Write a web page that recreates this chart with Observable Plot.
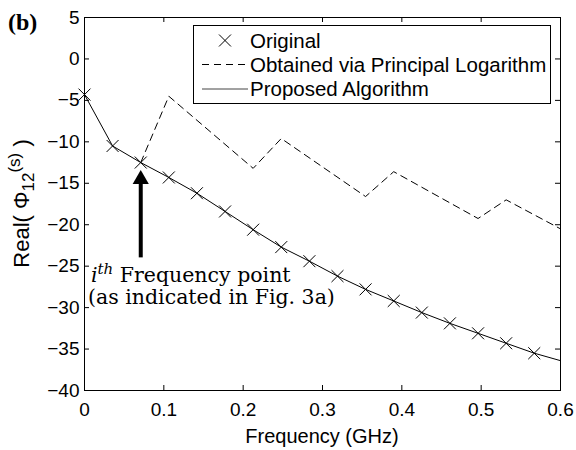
<!DOCTYPE html>
<html><head><meta charset="utf-8">
<script src="https://cdn.jsdelivr.net/npm/d3@7"></script>
<script src="https://cdn.jsdelivr.net/npm/@observablehq/plot@0.6"></script>
<style>body{margin:0;background:#fff}#chart{width:576px;height:450px}</style>
</head><body><div id="chart"></div>
<script>
// ---- data ----
const freqs = [0, 0.0354, 0.0709, 0.1063, 0.1417, 0.1772, 0.2126, 0.2480, 0.2835, 0.3189, 0.3543, 0.3898, 0.4252, 0.4606, 0.4961, 0.5315, 0.5669];
const original = [-4.3, -10.5, -12.5, -14.3, -16.2, -18.4, -20.6, -22.7, -24.4, -26.2, -27.8, -29.2, -30.6, -31.9, -33.1, -34.3, -35.5];
const proposedFreqs = [0, 0.0354, 0.0709, 0.1063, 0.1417, 0.1772, 0.2126, 0.2480, 0.2835, 0.3189, 0.3543, 0.3898, 0.4252, 0.4606, 0.4961, 0.5315, 0.5669, 0.6];
const proposed = [-4.3, -10.5, -12.5, -14.3, -16.2, -18.4, -20.6, -22.7, -24.4, -26.2, -27.8, -29.2, -30.6, -31.9, -33.1, -34.3, -35.5, -36.4];
const principalFreqs = [0.0709, 0.1063, 0.2126, 0.2480, 0.3543, 0.3898, 0.4961, 0.5315, 0.6];
const principal = [-12.5, -4.5, -13.2, -9.6, -16.6, -13.6, -19.25, -17.0, -20.5];
const xTicks = [0, 0.1, 0.2, 0.3, 0.4, 0.5, 0.6];
const xTickLabels = ["0", "0.1", "0.2", "0.3", "0.4", "0.5", "0.6"];
const yTicks = [-40, -35, -30, -25, -20, -15, -10, -5, 0, 5];
const yTickLabels = ["\u221240", "\u221235", "\u221230", "\u221225", "\u221220", "\u221215", "\u221210", "\u22125", "0", "5"];
const seriesNames = ["Original", "Obtained via Principal Logarithm", "Proposed Algorithm"];
const arrowX = 0.0709, arrowTip = -13.4, arrowTail = -24.0;
const annotX = 0.0088, annotY1 = -27.0, annotY2 = -29.6;

// ---- layout ----
const W = 576, H = 450, mL = 84, mR = 16, mT = 17, mB = 60;
const plotW = W - mL - mR, plotH = H - mT - mB, tick = 5;
const sans = "'Liberation Sans', Arial, Helvetica, sans-serif";

const origData = freqs.map((f, i) => ({f, v: original[i]}));
const propData = proposedFreqs.map((f, i) => ({f, v: proposed[i]}));
const princData = principalFreqs.map((f, i) => ({f, v: principal[i]}));

function overlay(index, scales) {
  const g = d3.create("svg:g").attr("text-anchor", "start");
  // title
  g.append("text").attr("x", 8).attr("y", 30).attr("font-family", "'Liberation Serif', 'Times New Roman', serif")
    .attr("font-weight", "bold").attr("font-size", 24).attr("fill", "black").text("(b)");
  // x label
  g.append("text").attr("x", mL + plotW / 2).attr("y", 443).attr("text-anchor", "middle")
    .attr("font-family", sans).attr("font-size", 20).attr("fill", "black").text("Frequency (GHz)");
  // y label
  const yl = g.append("text").attr("transform", `translate(29,${mT + plotH / 2}) rotate(-90)`)
    .attr("text-anchor", "middle").attr("font-family", sans).attr("font-size", 22).attr("fill", "black");
  yl.append("tspan").text("Real( \u03a6");
  yl.append("tspan").attr("font-size", 17).attr("dy", 5).text("12");
  yl.append("tspan").attr("font-size", 17).attr("dy", -14).text("(s)");
  yl.append("tspan").attr("dy", 9).text(" )");
  // annotation
  const ax = scales.x(annotX);
  const t1 = g.append("text").attr("x", ax).attr("y", scales.y(annotY1))
    .attr("font-family", "'DejaVu Serif', serif").attr("font-size", 20.5).attr("fill", "black");
  t1.append("tspan").attr("font-style", "italic").text("i");
  t1.append("tspan").attr("font-style", "italic").attr("font-size", 15).attr("dy", -8).text("th");
  t1.append("tspan").attr("dy", 8).text(" Frequency point");
  g.append("text").attr("x", ax - 3).attr("y", scales.y(annotY2))
    .attr("font-family", "'DejaVu Serif', serif").attr("font-size", 20.5).attr("fill", "black")
    .text("(as indicated in Fig. 3a)");
  // legend
  const lg = g.append("g");
  lg.append("rect").attr("x", 193.5).attr("y", 25.5).attr("width", 357).attr("height", 78)
    .attr("fill", "white").attr("stroke", "black");
  const rows = [40.5, 64.5, 89];
  lg.append("path").attr("transform", `translate(225,${rows[0]})`)
    .attr("d", d3.symbol(d3.symbolTimes, 5.5 * 5.5 * Math.PI)()).attr("fill", "none").attr("stroke", "black");
  lg.append("line").attr("x1", 202).attr("x2", 248).attr("y1", rows[1]).attr("y2", rows[1])
    .attr("stroke", "black").attr("stroke-dasharray", "7,5");
  lg.append("line").attr("x1", 202).attr("x2", 248).attr("y1", rows[2]).attr("y2", rows[2])
    .attr("stroke", "#444");
  seriesNames.forEach((s, i) => {
    lg.append("text").attr("x", 250).attr("y", rows[i]).attr("dy", "0.36em")
      .attr("font-family", sans).attr("font-size", 20.5).attr("fill", "black").text(s);
  });
  return g.node();
}

const chart = Plot.plot({
  width: W, height: H, marginLeft: mL, marginRight: mR, marginTop: mT, marginBottom: mB,
  style: {fontFamily: sans, fontSize: "19px", color: "black", background: "white", overflow: "visible"},
  x: {domain: [0, 0.6]},
  y: {domain: [-40, 5]},
  marks: [
    Plot.line(propData, {x: "f", y: "v", stroke: "black", strokeWidth: 1}),
    Plot.line(princData, {x: "f", y: "v", stroke: "black", strokeWidth: 1, strokeDasharray: "7,5"}),
    Plot.dot(origData, {x: "f", y: "v", symbol: "times", r: 5.5, stroke: "black", strokeWidth: 1}),
    Plot.ruleX([arrowX], {x: d => d, y1: arrowTail, y2: arrowTip - 1.5, stroke: "black", strokeWidth: 4}),
    Plot.dot([arrowX], {x: d => d, y: arrowTip, symbol: "triangle", r: 6, fill: "black", stroke: "none", dy: 9.3}),
    Plot.ruleX(xTicks, {x: d => d, insetTop: plotH - tick, stroke: "black"}),
    Plot.ruleX(xTicks, {x: d => d, insetBottom: plotH - tick, stroke: "black"}),
    Plot.ruleY(yTicks, {y: d => d, insetRight: plotW - tick, stroke: "black"}),
    Plot.ruleY(yTicks, {y: d => d, insetLeft: plotW - tick, stroke: "black"}),
    Plot.frame({stroke: "black", strokeWidth: 1}),
    Plot.axisX(xTicks, {anchor: "bottom", tickSize: 0, tickPadding: 12, fontSize: 19,
      tickFormat: d => xTickLabels[xTicks.indexOf(d)], label: null}),
    Plot.axisY(yTicks, {anchor: "left", tickSize: 0, tickPadding: 5, fontSize: 19,
      tickFormat: d => yTickLabels[yTicks.indexOf(d)], label: null}),
    overlay
  ]
});
document.getElementById("chart").appendChild(chart);
</script>
</body></html>
